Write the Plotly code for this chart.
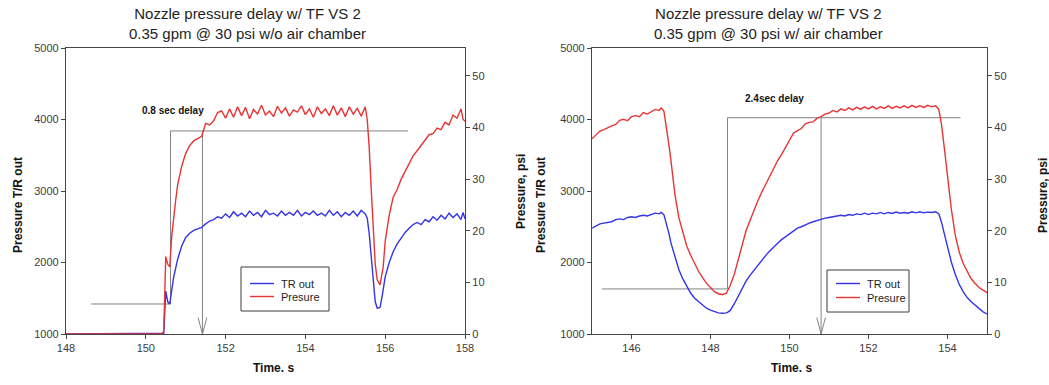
import plotly.graph_objects as go

# ---------------- Left panel: without air chamber ----------------
left_time_tr = [148.0, 150.40, 150.45, 150.50, 150.55, 150.60, 150.65, 150.70, 150.80, 150.90,
                151.00, 151.10, 151.20, 151.30, 151.40, 151.50, 151.60, 151.70, 151.80, 151.90,
                152.0, 152.1, 152.2, 152.3, 152.4, 152.5, 152.6, 152.7, 152.8, 152.9,
                153.0, 153.1, 153.2, 153.3, 153.4, 153.5, 153.6, 153.7, 153.8, 153.9,
                154.0, 154.1, 154.2, 154.3, 154.4, 154.5, 154.6, 154.7, 154.8, 154.9,
                155.0, 155.1, 155.2, 155.3, 155.4, 155.5, 155.55, 155.6, 155.65, 155.7,
                155.75, 155.8, 155.87, 155.93, 156.0, 156.1, 156.2, 156.3, 156.4, 156.5,
                156.6, 156.7, 156.8, 156.9, 157.0, 157.1, 157.2, 157.3, 157.4, 157.5,
                157.6, 157.7, 157.8, 157.9, 157.95, 158.0]
left_tr_out = [1000, 1000, 1010, 1600, 1450, 1420, 1650, 1800, 2050, 2230,
               2350, 2410, 2450, 2470, 2490, 2540, 2580, 2600, 2640, 2620,
               2680, 2630, 2710, 2650, 2690, 2640, 2720, 2660, 2700, 2640,
               2730, 2670, 2690, 2650, 2720, 2660, 2700, 2660, 2730, 2650,
               2700, 2670, 2720, 2660, 2690, 2650, 2730, 2660, 2710, 2640,
               2700, 2660, 2720, 2650, 2730, 2680, 2620, 2400, 2050, 1700,
               1450, 1360, 1370, 1550, 1800, 2000, 2150, 2260, 2340, 2420,
               2480, 2530, 2560, 2530, 2600, 2570, 2640, 2590, 2660, 2610,
               2690, 2630, 2680, 2600, 2700, 2610]

left_time_p = [148.0, 150.40, 150.45, 150.50, 150.55, 150.60, 150.65, 150.70, 150.75, 150.80,
               150.90, 151.00, 151.10, 151.20, 151.30, 151.40, 151.45, 151.50, 151.60, 151.70,
               151.80, 151.90, 152.0, 152.1, 152.2, 152.3, 152.4, 152.5, 152.6, 152.7,
               152.8, 152.9, 153.0, 153.1, 153.2, 153.3, 153.4, 153.5, 153.6, 153.7,
               153.8, 153.9, 154.0, 154.1, 154.2, 154.3, 154.4, 154.5, 154.6, 154.7,
               154.8, 154.9, 155.0, 155.1, 155.2, 155.3, 155.4, 155.5, 155.55, 155.6,
               155.65, 155.7, 155.75, 155.8, 155.87, 155.95, 156.0, 156.1, 156.2, 156.3,
               156.4, 156.5, 156.6, 156.7, 156.8, 156.9, 157.0, 157.1, 157.2, 157.3,
               157.4, 157.5, 157.6, 157.7, 157.8, 157.9, 157.95, 158.0]
left_pressure = [0.0, 0.0, 0.5, 15.0, 13.5, 13.0, 19.0, 23.0, 26.0, 29.0,
                 32.5, 35.0, 36.5, 37.4, 37.9, 38.3, 39.5, 40.8, 40.5, 41.3,
                 42.9, 43.2, 41.8, 43.6, 42.0, 44.0, 42.3, 43.9, 41.7, 43.5,
                 42.6, 44.3, 42.4, 43.2, 42.1, 44.1, 42.8, 43.8, 42.2, 43.4,
                 43.0, 44.2, 42.5, 43.6, 42.0, 44.0, 42.7, 43.6, 42.3, 44.2,
                 42.4, 43.8, 42.1, 44.0, 42.6, 43.7, 42.2, 44.0, 41.5, 36.0,
                 28.0, 20.0, 13.5, 10.5, 9.5, 13.0, 18.0, 23.0, 26.5, 28.0,
                 30.0, 31.5, 33.0, 34.5, 35.5, 36.5, 37.5, 38.6, 38.8, 39.9,
                 39.6, 41.0, 40.5, 42.4, 41.8, 43.6, 41.6, 41.2]

# delay marker (left): valve step and pressure arrival, in TR-out units
left_delay_label = "0.8 sec delay"
left_step_time = 150.62
left_arrival_time = 151.42
left_base_start = 148.63
left_base_level = 1420
left_top_level = 3840
left_top_end = 156.57
left_label_time = 150.68
left_label_level = 4120

# ---------------- Right panel: with air chamber ----------------
right_time = [145.0, 145.1, 145.2, 145.3, 145.4, 145.5, 145.6, 145.7, 145.8, 145.9,
              146.0, 146.1, 146.2, 146.3, 146.4, 146.5, 146.6, 146.7, 146.75, 146.82,
              146.88, 146.95, 147.0, 147.1, 147.2, 147.3, 147.4, 147.5, 147.6, 147.7,
              147.8, 147.9, 148.0, 148.1, 148.2, 148.3, 148.4, 148.45, 148.5, 148.6,
              148.7, 148.8, 148.9, 149.0, 149.1, 149.2, 149.3, 149.4, 149.5, 149.6,
              149.7, 149.8, 149.9, 150.0, 150.1, 150.2, 150.3, 150.4, 150.5, 150.6,
              150.7, 150.8, 150.9, 151.0, 151.1, 151.2, 151.3, 151.4, 151.5, 151.6,
              151.7, 151.8, 151.9, 152.0, 152.1, 152.2, 152.3, 152.4, 152.5, 152.6,
              152.7, 152.8, 152.9, 153.0, 153.1, 153.2, 153.3, 153.4, 153.5, 153.6,
              153.7, 153.78, 153.85, 153.92, 154.0, 154.1, 154.2, 154.3, 154.4, 154.5,
              154.6, 154.7, 154.8, 154.9, 155.0]
right_tr_out = [2480, 2510, 2540, 2550, 2560, 2570, 2600, 2610, 2600, 2630,
                2640, 2630, 2650, 2660, 2650, 2670, 2690, 2680, 2700, 2670,
                2560, 2400, 2270, 2080, 1900, 1770, 1660, 1570, 1500, 1450,
                1400, 1360, 1335, 1310, 1295, 1290, 1295, 1310, 1330, 1420,
                1530, 1640, 1740, 1820, 1890, 1960, 2040, 2100, 2160, 2220,
                2270, 2320, 2360, 2400, 2440, 2480, 2500, 2530, 2550, 2570,
                2590, 2600, 2620, 2630, 2640, 2650, 2660, 2650, 2670, 2660,
                2680, 2670, 2690, 2670, 2690, 2680, 2700, 2680, 2700, 2685,
                2705, 2690, 2700, 2690, 2710, 2695, 2710, 2695, 2705, 2700,
                2710, 2680, 2560, 2400, 2220, 2000, 1830, 1690, 1590, 1510,
                1450, 1400, 1350, 1310, 1280]
right_pressure = [37.8, 38.6, 39.3, 39.6, 40.0, 40.3, 40.6, 41.4, 41.6, 41.3,
                  42.1, 42.3, 42.1, 42.9, 42.6, 43.0, 43.5, 43.3, 43.8, 43.2,
                  40.5, 36.5, 33.5, 27.0, 22.5, 19.5, 17.0, 15.2, 13.5, 12.1,
                  10.9, 9.8, 9.0, 8.2, 7.8, 7.6, 7.9, 8.6, 9.4, 11.5,
                  14.5, 17.5, 20.0, 22.0, 24.0, 25.8, 27.5, 29.0, 30.6, 32.3,
                  33.6, 34.8, 36.1, 37.6, 38.9, 39.4, 39.8, 40.7, 41.0, 41.1,
                  41.8, 42.1, 42.6, 42.8, 43.3, 43.0, 43.6, 43.3, 43.8, 43.4,
                  43.9, 43.5, 44.0, 43.6, 44.1, 43.6, 44.0, 43.7, 44.2, 43.7,
                  44.1, 43.8, 44.2, 43.8, 44.3, 43.9, 44.2, 43.9, 44.3, 44.0,
                  44.2, 43.5, 40.5, 36.0, 30.5, 24.0, 19.0, 15.8, 13.6, 12.0,
                  10.7, 9.8, 9.0, 8.5, 8.0]

right_delay_label = "2.4sec delay"
right_step_time = 148.43
right_arrival_time = 150.80
right_base_start = 145.25
right_base_level = 1630
right_top_level = 4025
right_top_end = 154.33
right_label_time = 149.61
right_label_level = 4300

series_names = ["TR out", "Presure"]

# ---------------- styling ----------------
BLUE = "rgb(52,52,232)"
RED = "rgb(232,52,52)"
GREY = "rgb(130,130,130)"
AXIS = "rgb(70,70,70)"
FONT = "Liberation Sans, Arial, sans-serif"
W, H = 1049, 385

ydom = [1 - 334 / H, 1 - 48 / H]
left_dom = [66 / W, 465 / W]
right_dom = [592 / W, 987 / W]
PSI_TOP = 55.4

fig = go.Figure()


def add_panel(fig, t_tr, tr, t_p, p, xa, ya, ya2):
    fig.add_trace(go.Scatter(x=t_tr, y=tr, mode="lines", name=series_names[0],
                             line=dict(color=BLUE, width=1.4), showlegend=False,
                             xaxis=xa, yaxis=ya))
    fig.add_trace(go.Scatter(x=t_p, y=p, mode="lines", name=series_names[1],
                             line=dict(color=RED, width=1.4), showlegend=False,
                             xaxis=xa, yaxis=ya2))


def add_delay(fig, xa, ya, step, arrive, base_start, base, top, top_end):
    grey = dict(color=GREY, width=1)
    # baseline -> step up -> top line
    fig.add_trace(go.Scatter(x=[base_start, step, step, top_end],
                             y=[base, base, top, top],
                             mode="lines", line=grey, showlegend=False,
                             hoverinfo="skip", xaxis=xa, yaxis=ya))
    # arrival marker down to the time axis with an open arrow head
    fig.add_trace(go.Scatter(x=[arrive, arrive], y=[top, 1000],
                             mode="lines", line=grey, showlegend=False,
                             hoverinfo="skip", xaxis=xa, yaxis=ya))
    fig.add_trace(go.Scatter(x=[arrive - 0.11, arrive, arrive + 0.11],
                             y=[1230, 1000, 1230],
                             mode="lines", line=grey, showlegend=False,
                             hoverinfo="skip", xaxis=xa, yaxis=ya))


add_delay(fig, "x", "y", left_step_time, left_arrival_time, left_base_start,
          left_base_level, left_top_level, left_top_end)
add_delay(fig, "x2", "y3", right_step_time, right_arrival_time, right_base_start,
          right_base_level, right_top_level, right_top_end)
add_panel(fig, left_time_tr, left_tr_out, left_time_p, left_pressure, "x", "y", "y2")
add_panel(fig, right_time, right_tr_out, right_time, right_pressure, "x2", "y3", "y4")

tickfont = dict(family=FONT, size=11, color="rgb(60,60,60)")
common_axis = dict(showgrid=False, zeroline=False, showline=True, linecolor=AXIS,
                   linewidth=1.2, ticks="outside", ticklen=4, tickcolor=AXIS,
                   tickfont=tickfont)

fig.update_layout(
    width=W, height=H,
    margin=dict(l=0, r=0, t=0, b=0, autoexpand=False),
    paper_bgcolor="white", plot_bgcolor="white",
    font=dict(family=FONT),
    showlegend=False,
    xaxis=dict(domain=left_dom, anchor="y", range=[148, 158],
               tickvals=[148, 150, 152, 154, 156, 158], mirror=True, **common_axis),
    yaxis=dict(domain=ydom, anchor="x", range=[1000, 5000],
               tickvals=[1000, 2000, 3000, 4000, 5000], **common_axis),
    yaxis2=dict(overlaying="y", side="right", anchor="x", range=[0, PSI_TOP],
                tickvals=[0, 10, 20, 30, 40, 50], **common_axis),
    xaxis2=dict(domain=right_dom, anchor="y3", range=[145, 155],
                tickvals=[146, 148, 150, 152, 154], mirror=True, **common_axis),
    yaxis3=dict(domain=ydom, anchor="x2", range=[1000, 5000],
                tickvals=[1000, 2000, 3000, 4000, 5000], **common_axis),
    yaxis4=dict(overlaying="y3", side="right", anchor="x2", range=[0, PSI_TOP],
                tickvals=[0, 10, 20, 30, 40, 50], **common_axis),
)

title_font = dict(family=FONT, size=15, color="rgb(30,30,30)")
label_font = dict(family=FONT, size=12, color="rgb(20,20,20)")
delay_font = dict(family=FONT, size=10, color="rgb(20,20,20)")
legend_font = dict(family=FONT, size=11, color="rgb(30,30,30)")

annotations = [
    dict(text="Nozzle pressure delay w/ TF VS 2<br>0.35 gpm @ 30 psi w/o air chamber",
         x=247 / W, y=1 - 23 / H, font=title_font),
    dict(text="Nozzle pressure delay w/ TF VS 2<br>0.35 gpm @ 30 psi w/ air chamber",
         x=768 / W, y=1 - 23 / H, font=title_font),
    dict(text="<b>Time. s</b>", x=273 / W, y=1 - 368 / H, font=label_font),
    dict(text="<b>Time. s</b>", x=791 / W, y=1 - 368 / H, font=label_font),
    dict(text="<b>Pressure T/R out</b>", x=18 / W, y=1 - 205 / H, textangle=-90, font=label_font),
    dict(text="<b>Pressure, psi</b>", x=521 / W, y=1 - 192 / H, textangle=-90, font=label_font),
    dict(text="<b>Pressure T/R out</b>", x=541 / W, y=1 - 205 / H, textangle=-90, font=label_font),
    dict(text="<b>Pressure, psi</b>", x=1043 / W, y=1 - 196 / H, textangle=-90, font=label_font),
]
for a in annotations:
    fig.add_annotation(xref="paper", yref="paper", showarrow=False,
                       xanchor="center", yanchor="middle", **a)

fig.add_annotation(x=left_label_time, y=left_label_level, xref="x", yref="y",
                   text=f"<b>{left_delay_label}</b>", showarrow=False, font=delay_font)
fig.add_annotation(x=right_label_time, y=right_label_level, xref="x2", yref="y3",
                   text=f"<b>{right_delay_label}</b>", showarrow=False, font=delay_font)

# compact boxed keys, laid out in pixel coordinates of the page
legend_boxes = [
    dict(box=(241, 267, 329, 311), rows=(283.5, 296.5), sample=(250, 274), text_x=279),
    dict(box=(827, 270, 909, 312), rows=(283.5, 297.5), sample=(836, 860), text_x=865),
]
for lb in legend_boxes:
    x0, y0, x1, y1 = lb["box"]
    fig.add_shape(type="rect", xref="paper", yref="paper",
                  x0=x0 / W, x1=x1 / W, y0=1 - y1 / H, y1=1 - y0 / H,
                  line=dict(color="rgb(60,60,60)", width=1), fillcolor="white")
    for row_y, color, name in zip(lb["rows"], [BLUE, RED], series_names):
        fig.add_shape(type="line", xref="paper", yref="paper",
                      x0=lb["sample"][0] / W, x1=lb["sample"][1] / W,
                      y0=1 - row_y / H, y1=1 - row_y / H,
                      line=dict(color=color, width=1.4))
        fig.add_annotation(xref="paper", yref="paper", x=lb["text_x"] / W, y=1 - row_y / H,
                           text=name, showarrow=False, xanchor="left", yanchor="middle",
                           font=legend_font)

fig.write_html("out.html")
